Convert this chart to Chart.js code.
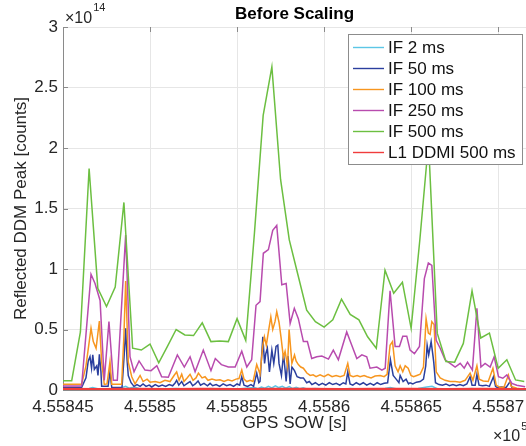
<!DOCTYPE html>
<html>
<head>
<meta charset="utf-8">
<script src="https://cdn.jsdelivr.net/npm/chart.js@4.4.0/dist/chart.umd.min.js"></script>
<style>
html, body { margin: 0; padding: 0; background: #fff; }
</style>
</head>
<body>
<canvas id="ddmChart" width="526" height="446"></canvas>
<script>
// x axis is GPS seconds of week, y is peak counts in units of 1e14
var t0 = 455845;
var xSpan = 26.6;
var xTicks = [455845, 455850, 455855, 455860, 455865, 455870];
var xTickLabels = ['4.55845', '4.5585', '4.55855', '4.5586', '4.55865', '4.5587'];
var yTicks = [0, 0.5, 1, 1.5, 2, 2.5, 3];
var yTickLabels = ['0', '0.5', '1', '1.5', '2', '2.5', '3'];

var seriesNames = ['IF 2 ms', 'IF 50 ms', 'IF 100 ms', 'IF 250 ms', 'IF 500 ms', 'L1 DDMI 500 ms'];
var seriesColors = ['#5cc6e6', '#2b3f9e', '#f7961f', '#b84bae', '#6cbf41', '#f03c3c'];

// [seconds after t0, value]
var if2ms = [[0,0.004],[0.5,0.006],[1,0.004],[1.5,0.012],[1.7,0.02],[2,0.01],[2.5,0.006],[3,0.01],[3.4,0.02],[3.6,0.03],[3.8,0.015],[4.1,0.025],[4.4,0.01],[5,0.008],[5.5,0.005],[6,0.01],[6.5,0.012],[7,0.008],[7.5,0.01],[8,0.007],[8.5,0.012],[9,0.008],[9.5,0.01],[10,0.009],[10.5,0.014],[11,0.02],[11.2,0.01],[11.4,0.025],[11.6,0.015],[11.8,0.03],[12,0.018],[12.2,0.035],[12.4,0.02],[12.6,0.03],[12.8,0.015],[13,0.028],[13.2,0.012],[13.4,0.022],[13.6,0.01],[13.8,0.018],[14,0.008],[14.5,0.012],[15,0.008],[15.5,0.01],[16,0.007],[16.5,0.012],[17,0.008],[17.5,0.006],[18,0.01],[18.5,0.012],[18.8,0.02],[19.2,0.008],[19.8,0.01],[20.4,0.012],[20.9,0.025],[21.2,0.03],[21.5,0.01],[22,0.008],[22.5,0.006],[23,0.008],[23.5,0.012],[24,0.006],[24.5,0.005],[25,0.004],[25.5,0.004],[26,0.003],[26.6,0.003]];

var if50ms = [[0,0.02],[1.07,0.02],[1.32,0.1],[1.45,0.24],[1.55,0.275],[1.64,0.18],[1.71,0.29],[1.8,0.17],[1.94,0.2],[2.01,0.12],[2.09,0.295],[2.18,0.15],[2.22,0.03],[2.59,0.03],[2.7,0.15],[2.8,0.02],[3.39,0.02],[3.52,0.3],[3.6,0.51],[3.68,0.25],[3.75,0.12],[3.91,0.06],[4.08,0.03],[4.25,0.045],[4.43,0.03],[4.6,0.05],[4.77,0.03],[4.95,0.04],[5.1,0.025],[5.3,0.045],[5.5,0.03],[5.7,0.04],[5.9,0.03],[6.1,0.045],[6.3,0.035],[6.45,0.06],[6.53,0.08],[6.65,0.04],[6.82,0.07],[6.95,0.035],[7.1,0.05],[7.3,0.07],[7.45,0.035],[7.6,0.05],[7.76,0.075],[7.9,0.04],[8.1,0.055],[8.3,0.035],[8.45,0.055],[8.6,0.035],[8.8,0.045],[9.0,0.03],[9.2,0.05],[9.4,0.035],[9.6,0.045],[9.8,0.03],[10.0,0.05],[10.15,0.04],[10.27,0.11],[10.4,0.04],[10.6,0.03],[10.8,0.045],[10.95,0.03],[11.13,0.14],[11.25,0.06],[11.32,0.07],[11.48,0.44],[11.58,0.22],[11.65,0.3],[11.74,0.345],[11.86,0.15],[12.0,0.33],[12.11,0.22],[12.24,0.36],[12.34,0.37],[12.41,0.22],[12.55,0.12],[12.67,0.3],[12.82,0.07],[12.93,0.28],[13.05,0.05],[13.15,0.19],[13.3,0.16],[13.45,0.11],[13.64,0.1],[13.81,0.1],[14.0,0.06],[14.15,0.07],[14.3,0.045],[14.5,0.06],[14.7,0.04],[14.9,0.055],[15.1,0.04],[15.3,0.06],[15.5,0.045],[15.7,0.055],[15.9,0.04],[16.1,0.06],[16.25,0.05],[16.36,0.15],[16.49,0.05],[16.65,0.04],[16.85,0.06],[17.05,0.045],[17.25,0.06],[17.45,0.04],[17.65,0.055],[17.85,0.04],[18.05,0.06],[18.25,0.045],[18.45,0.055],[18.65,0.06],[18.81,0.25],[18.97,0.12],[19.14,0.09],[19.3,0.06],[19.37,0.12],[19.54,0.07],[19.71,0.09],[19.85,0.05],[19.94,0.06],[20.1,0.05],[20.3,0.065],[20.52,0.07],[20.71,0.09],[20.84,0.2],[20.92,0.37],[21.01,0.29],[21.15,0.40],[21.24,0.3],[21.3,0.23],[21.4,0.06],[21.6,0.045],[21.8,0.04],[22.0,0.05],[22.2,0.035],[22.4,0.045],[22.6,0.035],[22.8,0.045],[23.0,0.035],[23.2,0.05],[23.39,0.11],[23.5,0.04],[23.68,0.04],[23.78,0.13],[23.9,0.04],[24.1,0.035],[24.3,0.04],[24.5,0.03],[24.73,0.11],[24.85,0.03],[24.94,0.02],[25.2,0.025],[25.45,0.02],[25.69,0.07],[25.8,0.015],[26.07,0.01],[26.55,0.005]];

var if100ms = [[0,0.047],[1.07,0.047],[1.32,0.2],[1.61,0.51],[1.74,0.40],[1.9,0.345],[2.09,0.57],[2.22,0.235],[2.37,0.047],[2.53,0.05],[2.7,0.235],[2.8,0.047],[3.37,0.047],[3.5,0.45],[3.6,0.90],[3.75,0.23],[3.95,0.11],[4.14,0.05],[4.43,0.12],[4.6,0.07],[4.83,0.09],[5.0,0.065],[5.29,0.07],[5.57,0.06],[5.86,0.08],[6.15,0.07],[6.38,0.12],[6.53,0.15],[6.67,0.08],[6.82,0.13],[6.95,0.07],[7.13,0.10],[7.3,0.13],[7.47,0.08],[7.64,0.10],[7.78,0.14],[7.99,0.10],[8.16,0.11],[8.33,0.08],[8.56,0.09],[8.79,0.08],[9.02,0.085],[9.25,0.07],[9.48,0.085],[9.71,0.075],[9.94,0.09],[10.11,0.095],[10.27,0.165],[10.4,0.09],[10.56,0.07],[10.75,0.08],[10.92,0.07],[11.13,0.21],[11.32,0.13],[11.48,0.37],[11.57,0.44],[11.68,0.37],[11.8,0.48],[11.94,0.605],[12.05,0.50],[12.18,0.565],[12.28,0.647],[12.41,0.56],[12.53,0.43],[12.66,0.27],[12.76,0.32],[12.9,0.2],[12.99,0.5],[13.15,0.22],[13.3,0.29],[13.39,0.24],[13.52,0.21],[13.66,0.19],[13.81,0.18],[14.01,0.14],[14.2,0.12],[14.37,0.125],[14.54,0.11],[14.77,0.125],[15.0,0.11],[15.23,0.13],[15.46,0.11],[15.69,0.12],[15.92,0.11],[16.15,0.12],[16.36,0.22],[16.49,0.12],[16.67,0.11],[16.9,0.12],[17.07,0.11],[17.3,0.12],[17.47,0.11],[17.7,0.10],[17.93,0.115],[18.22,0.12],[18.45,0.11],[18.62,0.13],[18.79,0.37],[18.93,0.40],[19.08,0.20],[19.25,0.15],[19.37,0.2],[19.52,0.15],[19.66,0.2],[19.83,0.18],[19.99,0.12],[20.14,0.11],[20.33,0.12],[20.52,0.13],[20.71,0.19],[20.86,0.59],[20.99,0.47],[21.09,0.46],[21.19,0.565],[21.32,0.54],[21.44,0.15],[21.67,0.10],[21.95,0.08],[22.24,0.07],[22.53,0.07],[22.82,0.065],[23.1,0.08],[23.39,0.14],[23.55,0.08],[23.78,0.2],[23.91,0.09],[24.14,0.075],[24.43,0.07],[24.7,0.18],[24.89,0.04],[25.11,0.02],[25.34,0.025],[25.59,0.124],[25.75,0.03],[26.07,0.014],[26.55,0.005]];

var if250ms = [[0,0.033],[1.07,0.033],[1.61,0.956],[1.84,0.88],[2.13,0.74],[2.37,0.08],[2.64,0.565],[2.89,0.08],[3.12,0.08],[3.6,1.28],[3.85,0.275],[4.08,0.15],[4.37,0.24],[4.71,0.165],[5.06,0.16],[5.39,0.2],[5.67,0.11],[6.05,0.105],[6.57,0.29],[6.97,0.19],[7.3,0.275],[7.59,0.15],[8.06,0.33],[8.5,0.16],[8.75,0.26],[9.1,0.21],[9.5,0.19],[9.89,0.19],[10.27,0.32],[10.56,0.19],[10.84,0.25],[11.09,0.70],[11.32,0.73],[11.51,1.13],[11.8,1.16],[12.05,1.32],[12.28,1.36],[12.57,0.87],[12.82,0.88],[13.05,0.55],[13.29,0.675],[13.52,0.59],[13.81,0.40],[14.04,0.40],[14.29,0.26],[14.58,0.275],[14.87,0.28],[15.25,0.255],[15.53,0.33],[15.82,0.25],[16.3,0.48],[16.59,0.37],[16.88,0.26],[17.17,0.29],[17.45,0.275],[17.64,0.18],[18.03,0.19],[18.32,0.165],[18.51,0.18],[18.79,0.82],[19.08,0.36],[19.33,0.36],[19.52,0.445],[19.75,0.445],[19.94,0.33],[20.19,0.30],[20.48,0.36],[20.76,0.92],[20.99,1.05],[21.19,1.03],[21.44,0.41],[21.67,0.345],[21.95,0.25],[22.24,0.22],[22.53,0.19],[22.82,0.22],[23.05,0.18],[23.24,0.23],[23.52,0.165],[23.78,0.675],[24.01,0.19],[24.25,0.22],[24.54,0.19],[24.77,0.275],[25.02,0.11],[25.27,0.097],[25.5,0.124],[25.79,0.055],[26.07,0.04],[26.55,0.027]];

// one sample every 0.5 s starting at t0
var if500ms = [0.077, 0.077, 0.48, 1.83, 0.84, 0.69, 0.85, 1.55, 0.345, 0.33,
  0.38, 0.225, 0.36, 0.50, 0.455, 0.45, 0.555, 0.40, 0.405, 0.40,
  0.59, 0.41, 1.30, 2.27, 2.67, 1.74, 1.24, 0.95, 0.66, 0.565,
  0.52, 0.58, 0.75, 0.625, 0.58, 0.44, 0.345, 0.99, 0.80, 0.89,
  0.51, 1.24, 2.05, 0.47, 0.235, 0.23, 0.385, 0.82, 0.43, 0.47,
  0.18, 0.25, 0.083, 0.07];

var l1ddmi = [[0,0.008],[2,0.007],[4,0.008],[6,0.007],[8,0.008],[10,0.007],[12,0.009],[14,0.008],[16,0.007],[18,0.008],[20,0.008],[22,0.007],[24,0.008],[26,0.007],[26.6,0.007]];

var fontFamily = '"Liberation Sans", Arial, Helvetica, sans-serif';

function pairsToPoints(pairs) {
    return pairs.map(function (p) { return {x: t0 + p[0], y: p[1]}; });
}

var seriesPoints = [
    pairsToPoints(if2ms),
    pairsToPoints(if50ms),
    pairsToPoints(if100ms),
    pairsToPoints(if250ms),
    if500ms.map(function (v, i) { return {x: t0 + i * 0.5, y: v}; }),
    pairsToPoints(l1ddmi)
];

var datasets = seriesPoints.map(function (pts, i) {
    return {
        label: seriesNames[i],
        data: pts,
        borderColor: seriesColors[i],
        backgroundColor: seriesColors[i],
        borderWidth: i === 5 ? 2.4 : 1.5,
        pointRadius: 0,
        tension: 0,
        fill: false,
        order: 5 - i
    };
});

// legend box drawn inside the axes, on top of the lines
var insideLegend = {
    id: 'insideLegend',
    afterDatasetsDraw: function (chart) {
        var ctx = chart.ctx;
        var area = chart.chartArea;
        var bx = area.right - 178, by = area.top + 7, bw = 174, bh = 130;
        ctx.save();
        ctx.fillStyle = '#ffffff';
        ctx.fillRect(bx, by, bw, bh);
        ctx.strokeStyle = '#8c8c8c';
        ctx.lineWidth = 1;
        ctx.strokeRect(bx + 0.5, by + 0.5, bw, bh);
        ctx.font = '17px ' + fontFamily;
        ctx.textBaseline = 'middle';
        chart.data.datasets.forEach(function (ds, i) {
            var cy = by + 13.5 + i * 21;
            ctx.strokeStyle = ds.borderColor;
            ctx.lineWidth = 1.4;
            ctx.beginPath();
            ctx.moveTo(bx + 5, cy);
            ctx.lineTo(bx + 36, cy);
            ctx.stroke();
            ctx.fillStyle = '#111';
            ctx.fillText(ds.label, bx + 40, cy + 1);
        });
        ctx.restore();
    }
};

// MATLAB-style inward ticks and the exponent labels
var axesExtras = {
    id: 'axesExtras',
    afterDraw: function (chart) {
        var ctx = chart.ctx;
        var area = chart.chartArea;
        var xs = chart.scales.x, ys = chart.scales.y;
        ctx.save();
        ctx.strokeStyle = '#8a8a8a';
        ctx.lineWidth = 1;
        ctx.beginPath();
        yTicks.forEach(function (v) {
            var py = Math.round(ys.getPixelForValue(v)) + 0.5;
            ctx.moveTo(area.left, py);
            ctx.lineTo(area.left + 5, py);
        });
        xTicks.forEach(function (v) {
            var px = Math.round(xs.getPixelForValue(v)) + 0.5;
            ctx.moveTo(px, area.top);
            ctx.lineTo(px, area.top + 5);
        });
        ctx.stroke();

        ctx.fillStyle = '#262626';
        ctx.textBaseline = 'alphabetic';
        ctx.font = '16px ' + fontFamily;
        ctx.fillText('\u00d710', 65, 22.5);
        var w = ctx.measureText('\u00d710').width;
        ctx.font = '11px ' + fontFamily;
        ctx.fillText('14', 65 + w + 1, 11);

        ctx.font = '16px ' + fontFamily;
        ctx.fillText('\u00d710', 493, 441);
        w = ctx.measureText('\u00d710').width;
        ctx.font = '11px ' + fontFamily;
        ctx.fillText('5', 493 + w + 1, 430);
        ctx.restore();
    }
};

new Chart(document.getElementById('ddmChart'), {
    type: 'line',
    data: { datasets: datasets },
    plugins: [insideLegend, axesExtras],
    options: {
        responsive: false,
        animation: false,
        devicePixelRatio: 1,
        layout: { padding: 0 },
        plugins: {
            legend: { display: false },
            tooltip: { enabled: false },
            title: {
                display: true,
                text: 'Before Scaling',
                fullSize: false,
                color: '#000',
                font: { family: fontFamily, size: 17, weight: 'bold' },
                padding: { top: 4, bottom: 2.6 }
            }
        },
        scales: {
            x: {
                type: 'linear',
                min: t0,
                max: t0 + xSpan,
                afterFit: function (scale) {
                    scale.height = 56;
                    scale.paddingLeft = 0;
                    scale.paddingRight = 0;
                },
                afterBuildTicks: function (scale) {
                    scale.ticks = xTicks.map(function (v) { return {value: v}; });
                },
                ticks: {
                    autoSkip: false,
                    maxRotation: 0,
                    padding: 7,
                    color: '#262626',
                    font: { family: fontFamily, size: 17 },
                    callback: function (v, i) { return xTickLabels[i]; }
                },
                grid: { color: '#e6e6e6', drawTicks: false },
                border: { color: '#8a8a8a' },
                title: {
                    display: true,
                    text: 'GPS SOW [s]',
                    color: '#262626',
                    font: { family: fontFamily, size: 17 },
                    padding: { top: 0, bottom: 12 }
                }
            },
            y: {
                min: 0,
                max: 3,
                afterFit: function (scale) {
                    scale.width = 63;
                    scale.paddingTop = 0;
                    scale.paddingBottom = 0;
                },
                afterBuildTicks: function (scale) {
                    scale.ticks = yTicks.map(function (v) { return {value: v}; });
                },
                ticks: {
                    padding: 5,
                    color: '#262626',
                    font: { family: fontFamily, size: 17 },
                    callback: function (v, i) { return yTickLabels[i]; }
                },
                grid: { color: '#e6e6e6', drawTicks: false },
                border: { color: '#8a8a8a' },
                title: {
                    display: true,
                    text: 'Reflected DDM Peak [counts]',
                    color: '#262626',
                    font: { family: fontFamily, size: 17 },
                    padding: { top: 11, bottom: 0 }
                }
            }
        }
    }
});
</script>
</body>
</html>
